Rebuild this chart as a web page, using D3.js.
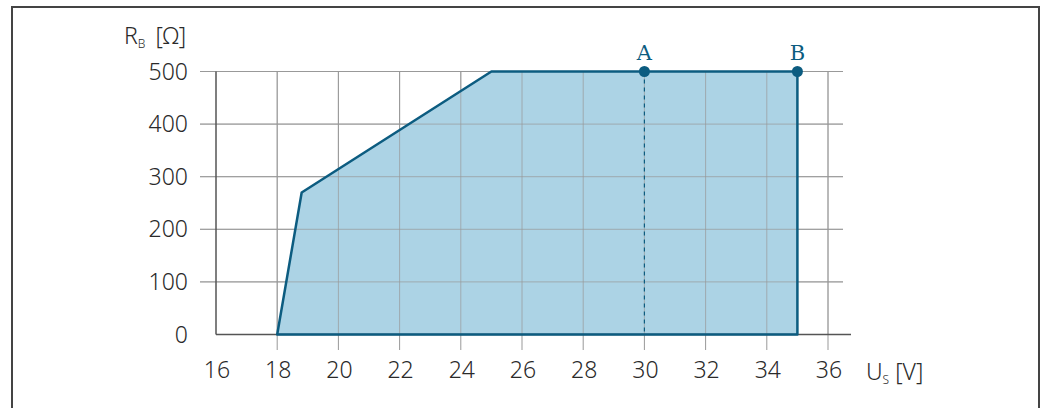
<!DOCTYPE html>
<html>
<head>
<meta charset="utf-8">
<script src="https://cdn.jsdelivr.net/npm/d3@7"></script>
<style>
  body { margin: 0; background: #fff; }
  text { font-family: "Noto Sans", "DejaVu Sans", sans-serif; fill: #2a2a2a; font-weight: 300; }
</style>
</head>
<body>
<div id="chart"></div>
<script>
// data
var usValues = [18, 18.8, 25, 35, 35];      // U_S [V]
var rbValues = [0, 270, 500, 500, 0];        // R_B [Ohm]
var xTicks = [16, 18, 20, 22, 24, 26, 28, 30, 32, 34, 36];
var yTicks = [0, 100, 200, 300, 400, 500];
var markerNames = ["A", "B"];
var markerUs = [30, 35];
var markerRb = [500, 500];

var width = 1045;
var height = 408;

var svg = d3.select("#chart")
    .append("svg")
    .attr("width", width)
    .attr("height", height);

//outer frame (no bottom edge)
svg.append("path")
    .attr("d", "M12,408 V7 H1039 V408")
    .attr("fill", "none")
    .attr("stroke", "#444")
    .attr("stroke-width", 2);

var x = d3.scaleLinear().domain([16, 36]).range([216, 828]);
var y = d3.scaleLinear().domain([0, 500]).range([334.5, 71.5]);

var blue = "#0c5c80";
var fill = "#acd3e5";

//horizontal grid
svg.selectAll(".hgrid")
    .data(yTicks.filter(d => d > 0))
    .enter().append("line")
    .attr("x1", 200)
    .attr("x2", 843)
    .attr("y1", d => y(d))
    .attr("y2", d => y(d))
    .attr("stroke", "#999")
    .attr("stroke-width", 1);

//vertical grid
svg.selectAll(".vgrid")
    .data(xTicks.filter(d => d > 16))
    .enter().append("line")
    .attr("x1", d => x(d))
    .attr("x2", d => x(d))
    .attr("y1", y(500))
    .attr("y2", 350)
    .attr("stroke", "#999")
    .attr("stroke-width", 1);

//the working area
var pts = usValues.map((u, i) => [x(u), y(rbValues[i])]);
svg.append("path")
    .attr("d", d3.line()(pts) + "Z")
    .attr("fill", fill)
    .attr("stroke", "none");

//grid shows through the fill
svg.selectAll(".hgrid2")
    .data(yTicks.filter(d => d > 0 && d < 500))
    .enter().append("line")
    .attr("x1", 200)
    .attr("x2", 843)
    .attr("y1", d => y(d))
    .attr("y2", d => y(d))
    .attr("stroke", "#999")
    .attr("stroke-opacity", 0.7)
    .attr("stroke-width", 1);
svg.selectAll(".vgrid2")
    .data(xTicks.filter(d => d > 16))
    .enter().append("line")
    .attr("x1", d => x(d))
    .attr("x2", d => x(d))
    .attr("y1", y(500))
    .attr("y2", y(0))
    .attr("stroke", "#999")
    .attr("stroke-opacity", 0.7)
    .attr("stroke-width", 1);

//axes
svg.append("line")
    .attr("x1", x(16)).attr("x2", x(16))
    .attr("y1", y(500)).attr("y2", y(0))
    .attr("stroke", "#555").attr("stroke-width", 1.5);
svg.append("line")
    .attr("x1", x(16)).attr("x2", 851)
    .attr("y1", y(0)).attr("y2", y(0))
    .attr("stroke", "#555").attr("stroke-width", 1.5);

//outline
svg.append("path")
    .attr("d", d3.line()(pts) + "Z")
    .attr("fill", "none")
    .attr("stroke", blue)
    .attr("stroke-width", 2.5)
    .attr("stroke-linejoin", "round");

//dashed line from A
svg.append("line")
    .attr("x1", x(markerUs[0])).attr("x2", x(markerUs[0]))
    .attr("y1", y(markerRb[0])).attr("y2", y(0))
    .attr("stroke", blue)
    .attr("stroke-width", 1.2)
    .attr("stroke-dasharray", "4,4");

//markers
svg.selectAll(".marker")
    .data(markerNames)
    .enter().append("circle")
    .attr("cx", (d, i) => x(markerUs[i]))
    .attr("cy", (d, i) => y(markerRb[i]))
    .attr("r", 5.5)
    .attr("fill", blue);

svg.selectAll(".markerLabel")
    .data(markerNames)
    .enter().append("text")
    .attr("x", (d, i) => x(markerUs[i]))
    .attr("y", (d, i) => y(markerRb[i]) - 12)
    .attr("text-anchor", "middle")
    .style("font-family", "'DejaVu Serif', serif")
    .style("font-size", "21px")
    .style("font-weight", "normal")
    .style("fill", blue)
    .text(d => d);

//tick labels
svg.selectAll(".ylab")
    .data(yTicks)
    .enter().append("text")
    .attr("x", 188)
    .attr("y", d => y(d) + 8)
    .attr("text-anchor", "end")
    .style("font-size", "23px")
    .text(d => d);

svg.selectAll(".xlab")
    .data(xTicks)
    .enter().append("text")
    .attr("x", d => x(d) + 1)
    .attr("y", 378)
    .attr("text-anchor", "middle")
    .style("font-size", "23px")
    .text(d => d);

//axis titles
var yt = svg.append("text")
    .attr("x", 124)
    .attr("y", 44)
    .style("font-size", "23px");
yt.append("tspan").text("R");
yt.append("tspan").attr("dy", 4).style("font-size", "12px").text("B");
yt.append("tspan").attr("dy", -4).attr("dx", 10).text("[Ω]");

var xt = svg.append("text")
    .attr("x", 866)
    .attr("y", 380)
    .style("font-size", "23px");
xt.append("tspan").text("U");
xt.append("tspan").attr("dy", 4).style("font-size", "12px").text("S");
xt.append("tspan").attr("dy", -4).attr("dx", 6).text("[V]");
</script>
</body>
</html>
